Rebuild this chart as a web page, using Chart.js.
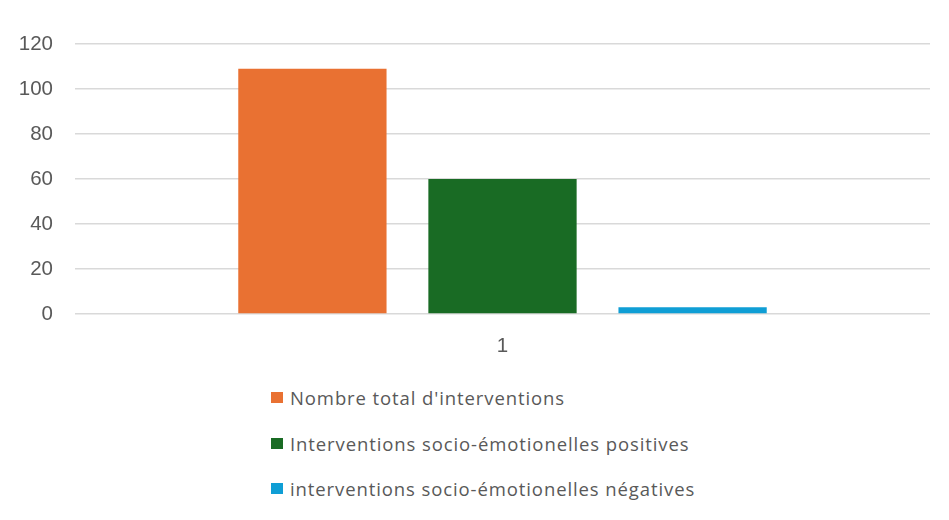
<!DOCTYPE html>
<html>
<head>
<meta charset="utf-8">
<script src="https://cdn.jsdelivr.net/npm/chart.js@4/dist/chart.umd.min.js"></script>
<style>
  html, body { margin: 0; padding: 0; background: #fff; }
  #wrap { position: relative; width: 949px; height: 520px; }
  #chart { position: absolute; left: 0; top: 0; }
  #legend { position: absolute; left: 271px; top: 375px; font-family: "Open Sans", sans-serif; font-size: 18.5px; letter-spacing: 0.9px; color: #595959; }
  .item { display: flex; align-items: center; height: 45.5px; }
  .box { width: 12px; height: 11px; margin-right: 7px; }
</style>
</head>
<body>
<div id="wrap">
  <canvas id="chart" width="949" height="372"></canvas>
  <div id="legend"></div>
</div>
<script>
const categories = ["1"];
const seriesNames = [
  "Nombre total d'interventions",
  "Interventions socio-émotionelles positives",
  "interventions socio-émotionelles négatives"
];
const totalInterventions = [109];
const positiveInterventions = [60];
const negativeInterventions = [3];
const seriesColors = ["#E97132", "#196B24", "#0F9ED5"];
const yTicks = [0, 20, 40, 60, 80, 100, 120];

const seriesValues = [totalInterventions, positiveInterventions, negativeInterventions];

const tickFont = { family: "'Liberation Sans', Arial, sans-serif", size: 20.5 };

const chart = new Chart(document.getElementById("chart"), {
  type: "bar",
  data: {
    labels: categories,
    datasets: seriesNames.map((name, i) => ({
      label: name,
      data: seriesValues[i],
      backgroundColor: seriesColors[i],
      borderWidth: 0,
      categoryPercentage: 0.667,
      barPercentage: 0.78
    }))
  },
  options: {
    responsive: false,
    animation: false,
    layout: { padding: { top: 44, right: 19, left: 0, bottom: 0 } },
    plugins: { legend: { display: false }, tooltip: { enabled: false } },
    scales: {
      y: {
        min: 0,
        max: 120,
        afterBuildTicks: (s) => { s.ticks = yTicks.map(v => ({ value: v })); },
        afterFit: (s) => { s.width = 75; },
        border: { display: false },
        grid: { color: "#d9d9d9", lineWidth: 1.5, drawTicks: false },
        ticks: {
          color: "#595959",
          padding: 22,
          font: tickFont
        }
      },
      x: {
        afterFit: (s) => { s.height = 58; },
        border: { display: false },
        grid: { display: false, drawTicks: false },
        ticks: {
          color: "#595959",
          padding: 20,
          font: tickFont
        }
      }
    }
  }
});

// legend stacked vertically below the plot
const legend = document.getElementById("legend");
seriesNames.forEach((name, i) => {
  const row = document.createElement("div");
  row.className = "item";
  const box = document.createElement("span");
  box.className = "box";
  box.style.background = seriesColors[i];
  const txt = document.createElement("span");
  txt.textContent = name;
  row.appendChild(box);
  row.appendChild(txt);
  legend.appendChild(row);
});
</script>
</body>
</html>
